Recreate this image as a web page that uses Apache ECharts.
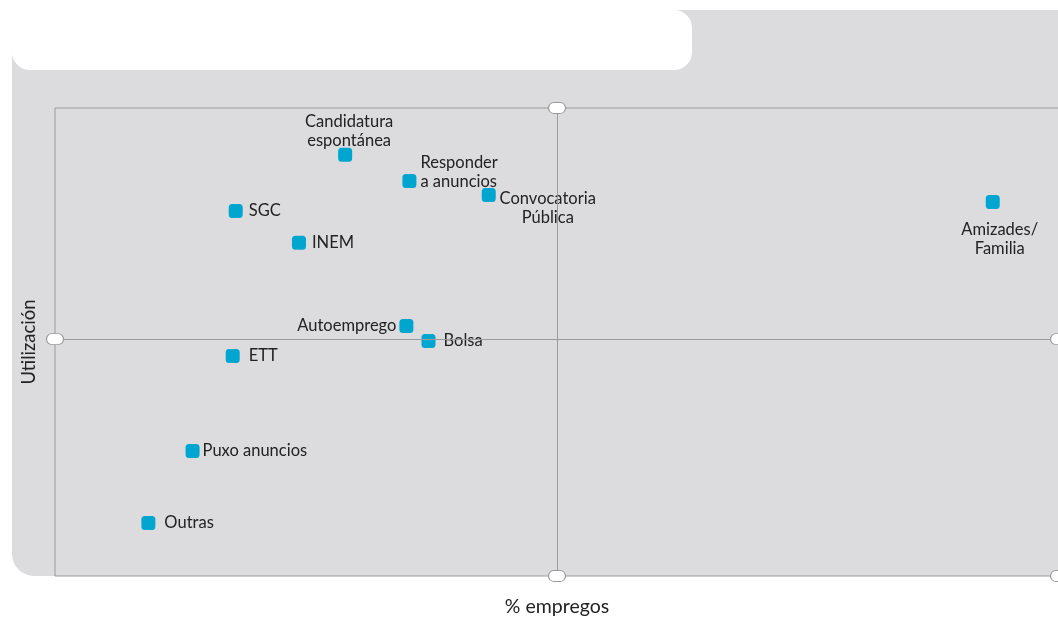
<!DOCTYPE html>
<html>
<head>
<meta charset="utf-8">
<style>
  html, body { margin: 0; padding: 0; background: #fff; }
  #chart { width: 1058px; height: 619px; }
</style>
<script src="https://cdn.jsdelivr.net/npm/echarts@6/dist/echarts.min.js"></script>
</head>
<body>
<div id="chart"></div>
<script>
// % empregos (x) vs utilización (y), both on a 0-100 scale
var names = ['Candidatura\nespontánea', 'Responder\na anuncios', 'Convocatoria\nPública', 'SGC', 'INEM',
             'Amizades/\nFamilia', 'Autoemprego', 'Bolsa', 'ETT', 'Puxo anuncios', 'Outras'];
var empregos = [28.9, 35.3, 43.2, 18.0, 24.3, 93.4, 35.0, 37.2, 17.7, 13.7, 9.3];
var utilizacion = [90.0, 84.4, 81.4, 78.0, 71.2, 79.9, 53.4, 50.2, 47.0, 26.7, 11.3];

var midX = 50;
var midY = 50.6;

// label placement per point
var labelPos = [
    { position: 'top', distance: -2, offset: [4, 0] },
    { position: 'right', distance: 4, offset: [0, -9] },
    { position: 'right', distance: 4, align: 'center', offset: [48, 13] },
    { position: 'right', distance: 6 },
    { position: 'right', distance: 6 },
    { position: 'bottom', distance: 11, offset: [7, 0] },
    { position: 'left', distance: 3 },
    { position: 'right', distance: 8 },
    { position: 'right', distance: 9 },
    { position: 'right', distance: 3 },
    { position: 'right', distance: 9 }
];

var points = [];
for (var i = 0; i < names.length; i++) {
    points.push({
        name: names[i],
        value: [empregos[i], utilizacion[i]],
        label: labelPos[i]
    });
}

var knobs = [[midX, 100], [midX, 0], [0, midY], [100, midY], [100, 0]];

var chart = echarts.init(document.getElementById('chart'));
chart.setOption({
    animation: false,
    textStyle: { fontFamily: 'Lato' },
    graphic: [
        {
            type: 'rect', z: -10,
            shape: { x: 12, y: 10, width: 1080, height: 566, r: 22 },
            style: { fill: '#dcdcde' }
        },
        {
            type: 'rect', z: -9,
            shape: { x: 12, y: 10, width: 680, height: 60, r: 18 },
            style: { fill: '#ffffff' }
        }
    ],
    grid: {
        left: 55, top: 108, width: 1004, height: 468,
        outerBoundsMode: 'none',
        containLabel: false,
        show: true, borderColor: '#9a9a9a', borderWidth: 1, backgroundColor: 'transparent'
    },
    xAxis: {
        type: 'value', min: 0, max: 100,
        name: '% empregos', nameLocation: 'middle', nameGap: 21,
        nameTextStyle: { fontSize: 19.5, color: '#222', fontFamily: 'Lato' },
        axisLine: { show: false }, axisTick: { show: false },
        axisLabel: { show: false }, splitLine: { show: false }
    },
    yAxis: {
        type: 'value', min: 0, max: 100,
        name: 'Utilización', nameLocation: 'middle', nameGap: 16,
        nameTextStyle: { fontSize: 18.5, color: '#222', fontFamily: 'Lato' },
        axisLine: { show: false }, axisTick: { show: false },
        axisLabel: { show: false }, splitLine: { show: false }
    },
    series: [
        {
            // quadrant dividers
            type: 'scatter',
            z: 1,
            data: [],
            markLine: {
                silent: true,
                symbol: 'none',
                label: { show: false },
                lineStyle: { color: '#9a9a9a', width: 1, type: 'solid' },
                data: [{ xAxis: midX }, { yAxis: midY }]
            }
        },
        {
            type: 'scatter',
            z: 3,
            symbol: 'roundRect',
            symbolSize: 14,
            itemStyle: { color: '#00a6cf', opacity: 1 },
            label: {
                show: true,
                formatter: '{b}',
                fontSize: 16.5,
                lineHeight: 19,
                color: '#222',
                fontFamily: 'Lato'
            },
            data: points
        },
        {
            // white capsule knobs on the axis ends
            type: 'scatter',
            z: 10,
            symbol: 'path://M5,0 H11 A5,5 0 0 1 11,10 H5 A5,5 0 0 1 5,0 Z',
            symbolSize: [17, 11],
            itemStyle: { color: '#ffffff', borderColor: '#9a9a9a', borderWidth: 1, opacity: 1 },
            data: knobs
        }
    ]
});
</script>
</body>
</html>
